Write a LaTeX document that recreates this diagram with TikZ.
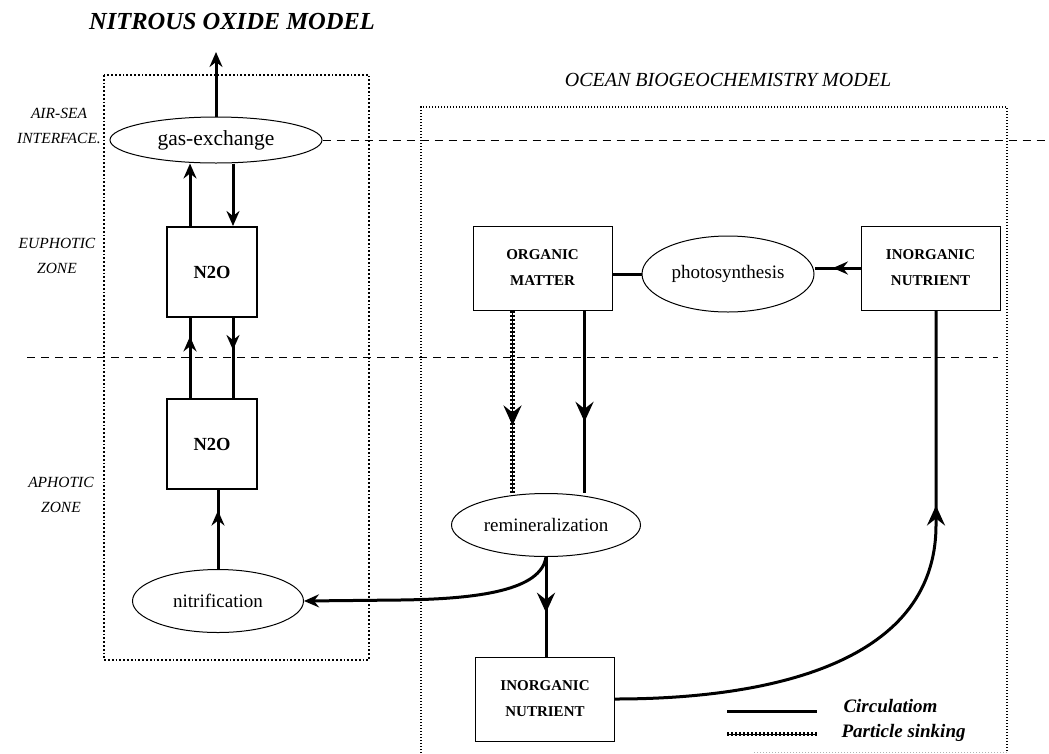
\documentclass[tikz,border=0pt]{standalone}
\usepackage{fontspec}
\setmainfont{Liberation Serif}
\usetikzlibrary{arrows.meta,shapes.geometric,decorations.markings}

\tikzset{
  pool/.style={rectangle,draw,line width=1pt,minimum width=139pt,minimum height=84pt,align=center,font=\bfseries\fontsize{15}{26}\selectfont},
  nbox/.style={rectangle,draw,line width=2pt,minimum width=90pt,minimum height=90pt,font=\bfseries\fontsize{18.5}{20}\selectfont},
  proc/.style={ellipse,draw,line width=1pt,inner sep=0pt,font=\fontsize{19}{22}\selectfont},
  zone/.style={align=center,font=\itshape\fontsize{15.5}{25}\selectfont},
  legtext/.style={anchor=west,font=\bfseries\itshape\fontsize{19}{22}\selectfont},
  circ/.style={line width=3pt},
  sinking/.style={line width=4.5pt,dash pattern=on 2pt off 2pt,postaction={draw,solid,line width=1pt}},
  interface/.style={line width=1pt,dash pattern=on 8pt off 6pt},
  sm/.tip={Stealth[length=15pt,width=13pt,inset=5pt]},
  bg/.tip={Stealth[length=20pt,width=18pt,inset=7pt]},
  arrowat/.style 2 args={postaction={decorate},decoration={markings,mark=at position #1 with {\arrow{#2}}}}
}

\begin{document}
\begin{tikzpicture}[x=1pt,y=-1pt]
\useasboundingbox (0,0) rectangle (1049,753);

% titles and zones
\node[font=\bfseries\itshape\fontsize{24.5}{28}\selectfont] (nitmodel) at (232,22) {NITROUS OXIDE MODEL};
\node[font=\itshape\fontsize{20}{22}\selectfont] (ocmodel) at (728,80) {OCEAN BIOGEOCHEMISTRY MODEL};
\node[zone] (airsea) at (59,126) {AIR-SEA\\INTERFACE.};
\node[zone] (euphotic) at (57,256) {EUPHOTIC\\ZONE};
\node[zone] (aphotic) at (61,495) {APHOTIC\\ZONE};

% model frames
\draw[line width=1.8pt,dash pattern=on 1.8pt off 2pt] (104,75) rectangle (369,660);
\draw[line width=1.2pt,dash pattern=on 1.2pt off 1.8pt] (421,753) -- (421,107) -- (1007,107) -- (1007,752);
\draw[gray!60,line width=1pt,dash pattern=on 1.2pt off 1.8pt] (1007,752) -- (754,752);

% nitrous oxide model
\node[proc,minimum width=212pt,minimum height=46pt,font=\fontsize{21.5}{24}\selectfont] (gasex) at (216,140) {gas-exchange};
\node[nbox] (n2oA) at (212,272) {N2O};
\node[nbox] (n2oB) at (212,444) {N2O};
\node[proc,minimum width=171pt,minimum height=63pt] (nitri) at (218,601) {nitrification};

% ocean biogeochemistry model
\node[pool] (orgm) at (542.5,268) {ORGANIC\\MATTER};
\node[proc,minimum width=172pt,minimum height=76pt] (photo) at (728,274) {photosynthesis};
\node[pool] (nutrA) at (930.5,268) {INORGANIC\\NUTRIENT};
\node[proc,minimum width=189pt,minimum height=63pt] (remin) at (546,525) {remineralization};
\node[pool] (nutrB) at (545,699) {INORGANIC\\NUTRIENT};

\coordinate (air) at (216,52);
\coordinate (seaR) at (1049,140);
\coordinate (zoneL) at (27,357);
\coordinate (zoneR) at (998,357);
\coordinate (nitriR) at (400,600);
\coordinate (turnR) at (936,525);

% interfaces
\draw[interface] (gasex.east) -- (seaR);
\draw[interface] (zoneL) -- (zoneR);

\draw[circ,-sm] (gasex.north) -- (air);
\draw[circ,-sm] ([xshift=-22pt]n2oA.north) -- ([xshift=-22pt]n2oA.north |- gasex.south);
\draw[circ,-sm] ([xshift=21pt]n2oA.north |- gasex.south) -- ([xshift=21pt]n2oA.north);
\draw[circ,arrowat={0.77}{sm}] ([xshift=-22pt]n2oB.north) -- ([xshift=-22pt]n2oA.south);
\draw[circ,arrowat={0.4}{sm}] ([xshift=21pt]n2oA.south) -- ([xshift=21pt]n2oB.north);
\draw[circ,arrowat={0.74}{sm}] (nitri.north) -- (nitri.north |- n2oB.south);

\draw[circ] (photo.west) -- (photo.west -| orgm.east);
\draw[circ,arrowat={0.6}{sm}] (nutrA.west) -- (nutrA.west -| photo.east);
\draw[sinking,arrowat={0.63}{bg}] ([xshift=-30pt]orgm.south) -- ([xshift=-30pt]orgm.south |- remin.north);
\draw[circ,arrowat={0.61}{bg}] ([xshift=42pt]orgm.south) -- ([xshift=42pt]orgm.south |- remin.north);
\draw[circ,arrowat={0.56}{bg}] (remin.south) -- (remin.south |- nutrB.north);
\draw[circ,-sm] (remin.south) .. controls (541,590) and (480,599) .. (nitriR) -- (nitri.east);
\draw[circ,arrowat={-195pt}{bg}] (nutrB.east) to[out=0,in=-90] (turnR) -- (turnR |- nutrA.south);

% legend
\node[legtext] (lcirc) at (840,706) {Circulatiom};
\node[legtext] (lsink) at (838,733) {Particle sinking};
\coordinate (lgA) at (727,711);
\coordinate (lgB) at (817,711);
\coordinate (lgC) at (727,734);
\coordinate (lgD) at (817,734);
\draw[circ] (lgA) -- (lgB);
\draw[sinking] (lgC) -- (lgD);
\end{tikzpicture}
\end{document}
